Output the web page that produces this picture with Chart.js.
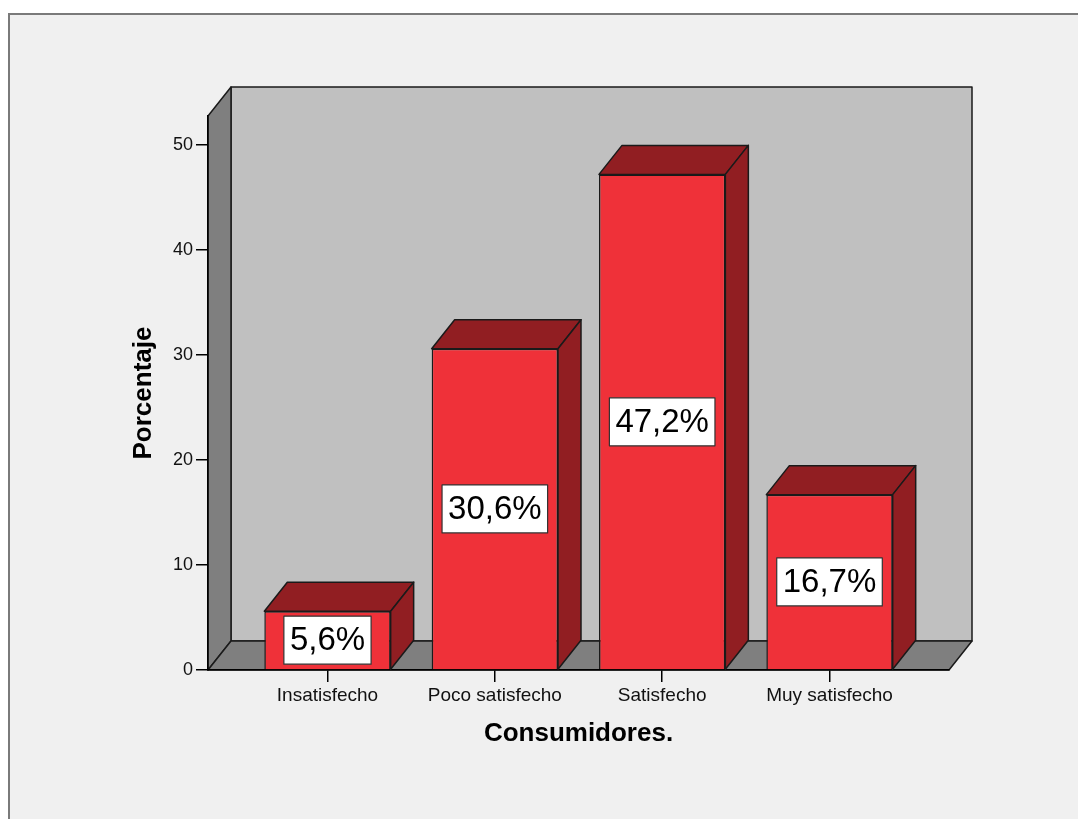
<!DOCTYPE html>
<html>
<head>
<meta charset="utf-8">
<title>Consumidores</title>
<script src="https://cdn.jsdelivr.net/npm/chart.js@4/dist/chart.umd.min.js"></script>
<style>
    html, body { margin: 0; padding: 0; background: #ffffff; overflow: hidden; }
    canvas { display: block; }
</style>
</head>
<body>
<canvas id="consumersChart" width="1078" height="819"></canvas>
<script>
// Data
const categories = ['Insatisfecho', 'Poco satisfecho', 'Satisfecho', 'Muy satisfecho'];
const percentages = [5.6, 30.6, 47.2, 16.7];
const yTicks = [0, 10, 20, 30, 40, 50];

// Look
const FONT = "'Liberation Sans', Arial, sans-serif";
const DEPTH_X = 23;
const DEPTH_Y = -29;
const COLORS = {
    page: '#f0f0f0',
    backWall: '#c0c0c0',
    sideWall: '#7f7f7f',
    barFront: '#ef3139',
    barDark: '#911e22',
    edge: '#1a1a1a'
};

function polygon(ctx, pts, fill) {
    ctx.beginPath();
    ctx.moveTo(pts[0][0], pts[0][1]);
    for (let i = 1; i < pts.length; i++) ctx.lineTo(pts[i][0], pts[i][1]);
    ctx.closePath();
    ctx.fillStyle = fill;
    ctx.fill();
    ctx.stroke();
}

// Frame + 3D walls behind the scales
const wallsPlugin = {
    id: 'walls',
    beforeDraw(chart) {
        const { ctx, chartArea: a, width, height } = chart;
        ctx.save();
        ctx.fillStyle = '#ffffff';
        ctx.fillRect(0, 0, width, height);
        ctx.fillStyle = COLORS.page;
        ctx.fillRect(9, 13, width - 9, height - 13);
        ctx.fillStyle = '#7a7a7a';
        ctx.fillRect(9, 13, width - 9, 2);
        ctx.fillRect(8, 13, 2, height - 13);

        ctx.strokeStyle = COLORS.edge;
        ctx.lineWidth = 1.5;
        ctx.lineJoin = 'round';
        // back wall
        polygon(ctx, [
            [a.left + DEPTH_X, a.top + DEPTH_Y], [a.right + DEPTH_X, a.top + DEPTH_Y],
            [a.right + DEPTH_X, a.bottom + DEPTH_Y], [a.left + DEPTH_X, a.bottom + DEPTH_Y]
        ], COLORS.backWall);
        // left wall
        polygon(ctx, [
            [a.left, a.bottom], [a.left, a.top],
            [a.left + DEPTH_X, a.top + DEPTH_Y], [a.left + DEPTH_X, a.bottom + DEPTH_Y]
        ], COLORS.sideWall);
        // floor
        polygon(ctx, [
            [a.left, a.bottom], [a.right, a.bottom],
            [a.right + DEPTH_X, a.bottom + DEPTH_Y], [a.left + DEPTH_X, a.bottom + DEPTH_Y]
        ], COLORS.sideWall);
        ctx.restore();
    }
};

// Top and side faces of the bars, then the value boxes
const barFacesPlugin = {
    id: 'barFaces',
    afterDatasetsDraw(chart) {
        const { ctx } = chart;
        const meta = chart.getDatasetMeta(0);
        ctx.save();
        ctx.strokeStyle = COLORS.edge;
        ctx.lineWidth = 1.5;
        ctx.lineJoin = 'round';
        meta.data.forEach(bar => {
            const { x, y, base, width } = bar.getProps(['x', 'y', 'base', 'width'], true);
            const l = x - width / 2;
            const r = x + width / 2;
            polygon(ctx, [[l, y], [r, y], [r + DEPTH_X, y + DEPTH_Y], [l + DEPTH_X, y + DEPTH_Y]], COLORS.barDark);
            polygon(ctx, [[r, y], [r + DEPTH_X, y + DEPTH_Y], [r + DEPTH_X, base + DEPTH_Y], [r, base]], COLORS.barDark);
        });

        ctx.font = '33px ' + FONT;
        ctx.textAlign = 'center';
        ctx.textBaseline = 'middle';
        meta.data.forEach((bar, i) => {
            const { x, y, base } = bar.getProps(['x', 'y', 'base'], true);
            const text = percentages[i].toFixed(1).replace('.', ',') + '%';
            const w = ctx.measureText(text).width + 12;
            const h = 48;
            const cy = (y + base) / 2;
            ctx.fillStyle = '#ffffff';
            ctx.fillRect(x - w / 2, cy - h / 2, w, h);
            ctx.lineWidth = 1.2;
            ctx.strokeStyle = '#333333';
            ctx.strokeRect(x - w / 2, cy - h / 2, w, h);
            ctx.fillStyle = '#000000';
            ctx.fillText(text, x, cy + 1);
        });
        ctx.restore();
    }
};

function initializeChart() {
    const ctx = document.getElementById('consumersChart').getContext('2d');
    new Chart(ctx, {
        type: 'bar',
        data: {
            datasets: [{
                data: categories.map((c, i) => ({ x: i, y: percentages[i] })),
                backgroundColor: COLORS.barFront,
                borderColor: COLORS.edge,
                borderWidth: 1.5,
                categoryPercentage: 1,
                barPercentage: 0.755
            }]
        },
        options: {
            responsive: false,
            animation: false,
            layout: { padding: { left: 128, right: 129, top: 116, bottom: 70 } },
            plugins: {
                legend: { display: false },
                tooltip: { enabled: false }
            },
            scales: {
                x: {
                    type: 'linear',
                    offset: false,
                    min: -0.714,
                    max: categories.length - 1 + 0.714,
                    afterBuildTicks: scale => { scale.ticks = categories.map((c, i) => ({ value: i })); },
                    afterFit: scale => { scale.height = 79; },
                    grid: { offset: false, drawOnChartArea: false, tickLength: 12, color: '#000000', lineWidth: 1.5 },
                    border: { color: '#000000', width: 1.5 },
                    ticks: {
                        color: '#111111',
                        padding: 2,
                        maxRotation: 0,
                        autoSkip: false,
                        font: { family: FONT, size: 19 },
                        callback: value => categories[value]
                    },
                    title: {
                        display: true,
                        text: 'Consumidores.',
                        color: '#000000',
                        padding: 0,
                        font: { family: FONT, size: 26, weight: 'bold' }
                    }
                },
                y: {
                    min: 0,
                    max: 52.76,
                    afterBuildTicks: scale => { scale.ticks = yTicks.map(v => ({ value: v })); },
                    afterFit: scale => { scale.width = 80; },
                    grid: { drawOnChartArea: false, tickLength: 12, color: '#000000', lineWidth: 1.5 },
                    border: { color: '#000000', width: 1.5 },
                    ticks: {
                        color: '#111111',
                        padding: 3,
                        font: { family: FONT, size: 18 }
                    },
                    title: {
                        display: true,
                        text: 'Porcentaje',
                        color: '#000000',
                        padding: 0,
                        font: { family: FONT, size: 26, weight: 'bold' }
                    }
                }
            }
        },
        plugins: [wallsPlugin, barFacesPlugin]
    });
}

document.addEventListener('DOMContentLoaded', initializeChart);
</script>
</body>
</html>
